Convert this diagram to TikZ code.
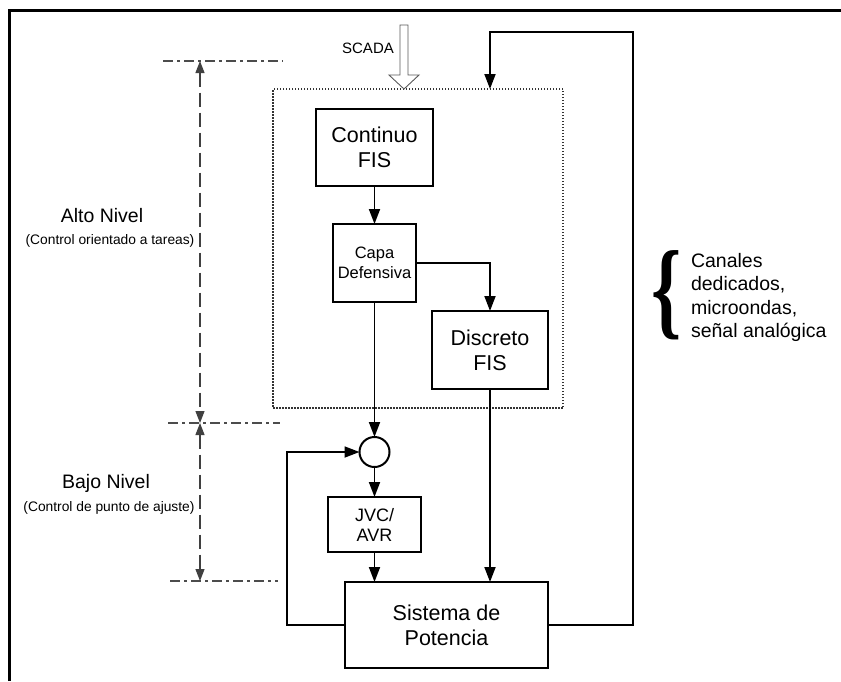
\documentclass[tikz,border=0pt]{standalone}
\usepackage{fontspec}
\setmainfont{Liberation Sans}
\newfontfamily\bracefont{Liberation Serif}
\usetikzlibrary{arrows.meta}
\begin{document}
\begin{tikzpicture}[x=1pt,y=-1pt,inner sep=0pt,outer sep=0pt,line width=1.8pt,
>={Triangle[length=15pt,width=11pt]},
sysblock/.style={draw,rectangle,line width=2.4pt,align=center,font=\fontsize{21.5}{25}\selectfont},
capablock/.style={draw,rectangle,line width=2pt,align=center,font=\fontsize{16.5}{20}\selectfont},
nivel/.style={font=\fontsize{19.5}{23}\selectfont},
nota/.style={font=\fontsize{13.8}{16}\selectfont},
guia/.style={draw=black!70,line width=1.2pt,dash pattern=on 10pt off 4pt on 3pt off 4pt},
cota/.style={draw=black!75,line width=1.2pt,dash pattern=on 14pt off 6pt,
  {Triangle[length=12pt,width=9pt]}-{Triangle[length=12pt,width=9pt]}}]
\useasboundingbox (0,0) rectangle (841,681);
\draw[line width=3pt] (9,681) -- (9,10) -- (841,10);
% bloques
\draw (418,248.5) node[draw=black!80,line width=1.2pt,dash pattern=on 1.5pt off 1.5pt,
  minimum width=290,minimum height=319] (alto) {};
\draw (374.5,147.5) node[sysblock,minimum width=117,minimum height=77] (cont) {Continuo\\FIS};
\draw (374.5,263) node[capablock,minimum width=83,minimum height=78] (capa) {Capa\\Defensiva};
\draw (490,350) node[sysblock,minimum width=116,minimum height=78] (disc) {Discreto\\FIS};
\draw (374.5,452) node[draw,circle,line width=2pt,minimum size=30] (sum) {};
\draw (374.5,524.5) node[capablock,minimum width=93,minimum height=55,
  font=\fontsize{18}{20}\selectfont] (jvc) {JVC/\\AVR};
\draw (446.5,625) node[sysblock,minimum width=203,minimum height=86] (sist) {Sistema de\\Potencia};
% SCADA
\draw (368,48) node[font=\fontsize{15}{18}\selectfont] (scada) {SCADA};
\coordinate (sc) at (alto.north -| 404,0);
\draw[draw=black!65,line width=0.9pt,fill=white] (sc) -- ++(-15,-14) -- ++(11,0) -- ++(0,-50)
  -- ++(8,0) -- ++(0,50) -- ++(11,0) -- cycle;
% conexiones
\draw[->] (cont.south) -- (capa.north);
\draw[->] (capa.east) -| (disc.north);
\draw[->] (capa.south) -- (sum.north);
\draw[->] (sum.south) -- (jvc.north);
\draw[->] (jvc.south) -- (jvc.south |- sist.north);
\draw[->] (disc.south) -- (disc.south |- sist.north);
\coordinate (fbl) at (287,452);
\draw[->] (sist.west) -| (fbl) -- (sum.west);
\coordinate (fbr) at (633,32);
\draw[->] (sist.east) -| (fbr) -| (disc.north |- alto.north);
% niveles
\coordinate (g1) at (163,61);
\coordinate (g2) at (168,423);
\coordinate (g3) at (170,581);
\draw[guia] (g1) -- ++(120,0);
\draw[guia] (g2) -- ++(112,0);
\draw[guia] (g3) -- ++(108,0);
\draw[cota] (200,61) -- (200,423);
\draw[cota] (200,423) -- (200,581);
\draw (102,216) node[nivel] (altotxt) {Alto Nivel};
\draw (110,241) node[nota] (altonota) {(Control orientado a tareas)};
\draw (106,483) node[nivel] (bajotxt) {Bajo Nivel};
\draw (109,508) node[nota] (bajonota) {(Control de punto de ajuste)};
% canales
\draw (667,295) node (llave) {\scalebox{3.2}[4.5]{\bracefont\bfseries\fontsize{24}{24}\selectfont\{}};
\draw (691,253) node[anchor=north west,align=left,font=\fontsize{19.5}{23.5}\selectfont] (canales)
  {Canales\\dedicados,\\microondas,\\señal analógica};
\end{tikzpicture}
\end{document}
